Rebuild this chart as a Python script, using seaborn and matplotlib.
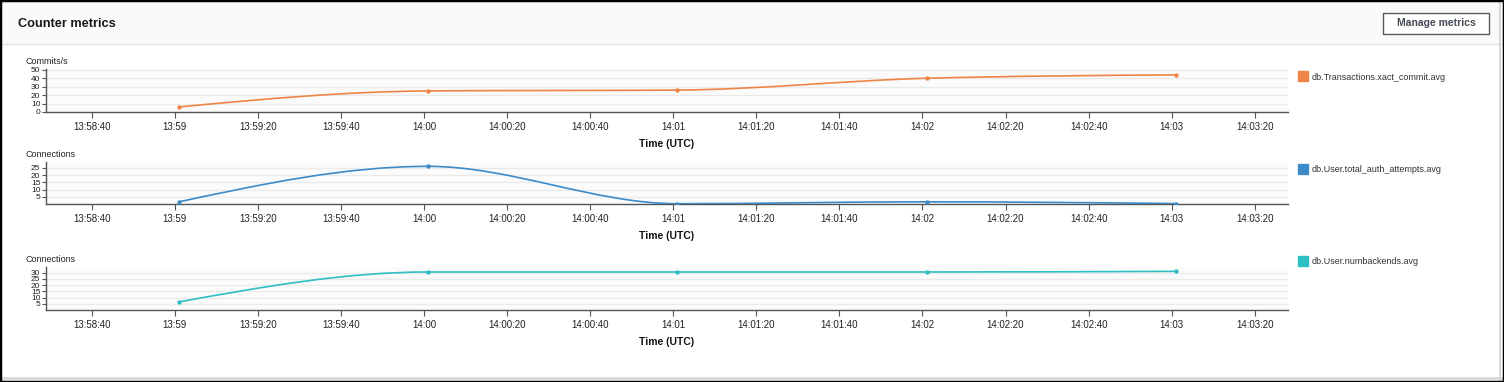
import matplotlib
matplotlib.use("Agg")
import matplotlib.pyplot as plt
import matplotlib.dates as mdates
from matplotlib.path import Path
from matplotlib.patches import PathPatch, Rectangle
from matplotlib.lines import Line2D
from matplotlib.ticker import FuncFormatter
import seaborn as sns
import numpy as np
import pandas as pd

# --- data ---
times = ["13:59:01", "14:00:01", "14:01:01", "14:02:01", "14:03:01"]
commits = [6, 25, 26, 40, 44]
auth_attempts = [1.5, 26, 0.2, 1.5, 0.3]
backends = [6.5, 30.5, 30.5, 30.5, 31]

metric_names = ["db.Transactions.xact_commit.avg",
                "db.User.total_auth_attempts.avg",
                "db.User.numbackends.avg"]
unit_labels = ["Commits/s", "Connections", "Connections"]
colors = ["#ee8547", "#3c8ac8", "#2cbfc4"]
ytick_sets = [[0, 10, 20, 30, 40, 50], [5, 10, 15, 20, 25], [5, 10, 15, 20, 25, 30]]
ylims = [(0, 51), (0, 29), (0, 34.5)]

sns.set_style("white")
plt.rcParams["font.family"] = ["Liberation Sans", "DejaVu Sans"]

W, H = 1504, 382
fig = plt.figure(figsize=(W / 100, H / 100), dpi=100)


def px_box(left, top, right, bottom):
    return [left / W, 1 - bottom / H, (right - left) / W, (bottom - top) / H]


# monotone cubic curve (like d3 curveMonotoneX) as a bezier path
def monotone_path(x, y):
    x = np.asarray(x, float)
    y = np.asarray(y, float)
    n = len(x)
    h = np.diff(x)
    s = np.diff(y) / h
    t = np.zeros(n)
    for i in range(1, n - 1):
        p = (s[i - 1] * h[i] + s[i] * h[i - 1]) / (h[i - 1] + h[i])
        t[i] = (np.sign(s[i - 1]) + np.sign(s[i])) * min(abs(s[i - 1]), abs(s[i]), 0.5 * abs(p))
    t[0] = (3 * s[0] - t[1]) / 2
    t[-1] = (3 * s[-1] - t[-2]) / 2
    verts = [(x[0], y[0])]
    codes = [Path.MOVETO]
    for i in range(n - 1):
        d = h[i] / 3
        verts += [(x[i] + d, y[i] + d * t[i]), (x[i + 1] - d, y[i + 1] - d * t[i + 1]), (x[i + 1], y[i + 1])]
        codes += [Path.CURVE4] * 3
    return Path(verts, codes)


def time_fmt(v, pos):
    d = mdates.num2date(v)
    return d.strftime("%H:%M") if d.second == 0 else d.strftime("%H:%M:%S")


# header band + frame
fig.patches.append(Rectangle((0, 1 - 44 / H), 1, 42 / H, transform=fig.transFigure,
                             facecolor="#fafafa", edgecolor="none", zorder=0))
fig.add_artist(Line2D([0, 1], [1 - 44 / H] * 2, transform=fig.transFigure, color="#e6e6e6", lw=1))
fig.add_artist(Line2D([0, 1], [1 - 378 / H] * 2, transform=fig.transFigure, color="#d5dbdb", lw=2))
fig.add_artist(Line2D([1 - 4 / W] * 2, [0, 1], transform=fig.transFigure, color="#d5dbdb", lw=1.5))
fig.patches.append(Rectangle((0, 0), 1, 1, transform=fig.transFigure, facecolor="none",
                             edgecolor="black", lw=2.5, zorder=10))
fig.text(18 / W, 1 - 24 / H, "Counter metrics", fontsize=9.2, fontweight="bold",
         color="#16191f", va="center", ha="left")
fig.patches.append(Rectangle((1383 / W, 1 - 34 / H), 106 / W, 21 / H, transform=fig.transFigure,
                             facecolor="white", edgecolor="#545b64", lw=1))
fig.text(1436 / W, 1 - 23.5 / H, "Manage metrics", fontsize=7.5, fontweight="bold",
         color="#444b54", va="center", ha="center")

base = "2024-01-01 "
dt = pd.to_datetime([base + t for t in times])
xmin = pd.Timestamp(base + "13:58:29")
xmax = pd.Timestamp(base + "14:03:28")

series = [commits, auth_attempts, backends]
boxes = [(46, 69, 1288, 112), (46, 162, 1288, 204), (46, 267, 1288, 310)]
legend_drop = [8, 8, -5]

for vals, name, unit, col, yt, yl, box, drop in zip(series, metric_names, unit_labels, colors,
                                                    ytick_sets, ylims, boxes, legend_drop):
    ax = fig.add_axes(px_box(*box))
    ph = box[3] - box[1]
    df = pd.DataFrame({"time": dt, "value": vals})
    sns.scatterplot(data=df, x="time", y="value", color=col, s=10, linewidth=0, ax=ax, zorder=4)
    path = monotone_path(mdates.date2num(df["time"]), df["value"])
    ax.add_patch(PathPatch(path, facecolor="none", edgecolor=col, lw=1.2, zorder=3))

    ax.set_xlim(xmin, xmax)
    ax.set_ylim(*yl)
    ax.set_yticks(yt)
    ax.xaxis.set_major_locator(mdates.SecondLocator(bysecond=[0, 20, 40]))
    ax.xaxis.set_major_formatter(FuncFormatter(time_fmt))
    ax.set_facecolor("#fbfbfb")
    ax.grid(axis="y", color="#eaeaea", lw=0.9)
    ax.set_axisbelow(True)
    for side in ["top", "right"]:
        ax.spines[side].set_visible(False)
    for side in ["left", "bottom"]:
        ax.spines[side].set_color("#555555")
        ax.spines[side].set_linewidth(1)
    ax.tick_params(axis="x", length=4, width=0.8, color="#555555", labelsize=7, labelcolor="#222222", pad=3)
    ax.tick_params(axis="y", length=3, width=0.8, color="#555555", labelsize=6, labelcolor="#222222", pad=1)
    ax.tick_params(axis="both", which="both", bottom=True, left=True)

    ax.set_ylabel("")
    ax.set_xlabel("Time (UTC)", fontsize=7.5, fontweight="bold", color="#111111")
    ax.xaxis.set_label_coords(0.5, -27 / ph)
    ax.text(-20 / 1242, 1 + 7 / ph, unit, transform=ax.transAxes,
            fontsize=6.5, color="#222222", ha="left", va="center")

    handle = Line2D([], [], marker="s", color=col, linestyle="none", markersize=7)
    ax.legend(handles=[handle], labels=[name], loc="center left",
              bbox_to_anchor=(1 + 11 / 1242, 1 - drop / ph),
              frameon=False, fontsize=6.5, handletextpad=0.6, borderaxespad=0,
              borderpad=0, handlelength=0.8, labelcolor="#333333")

fig.savefig("out.png", dpi=100)
